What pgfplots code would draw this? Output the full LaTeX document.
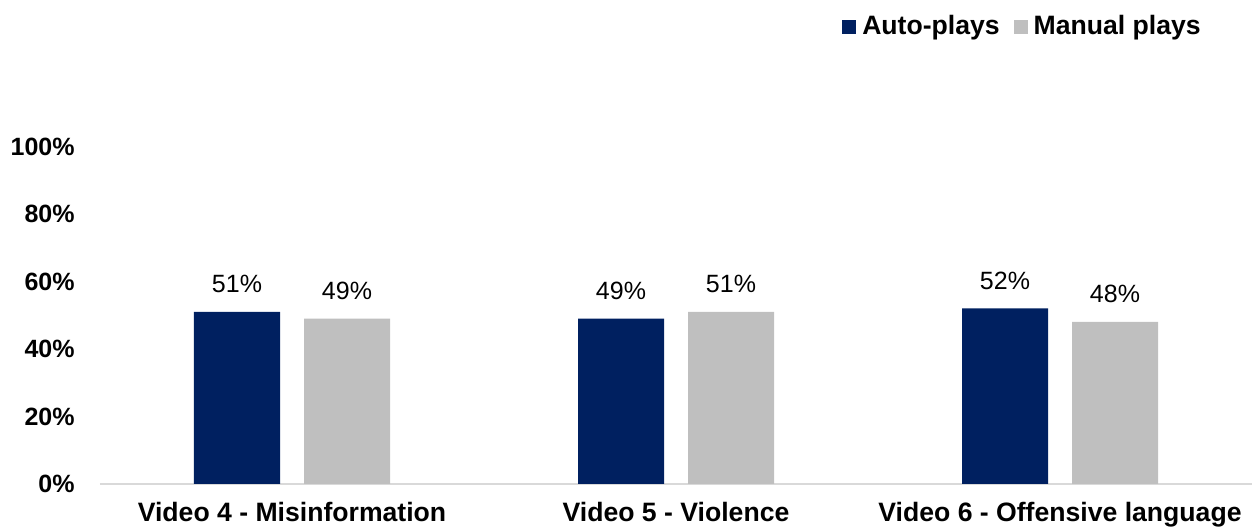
\documentclass[border=0pt]{standalone}
\usepackage{pgfplots}
\pgfplotsset{compat=1.18}
\usepackage{fontspec}
\setmainfont{Liberation Sans}
\definecolor{navy}{HTML}{002060}
\definecolor{lgray}{HTML}{BFBFBF}
\definecolor{axgray}{HTML}{D9D9D9}
\begin{document}
\fontsize{12.5}{15}\selectfont
\begin{tikzpicture}
\begin{axis}[
  scale only axis,
  width=576pt, height=168.75pt,
  xmin=-0.5, xmax=2.5,
  ymin=0, ymax=100,
  ybar=12pt, bar width=43pt,
  axis lines*=left,
  y axis line style={draw=none},
  x axis line style={draw=axgray, line width=1pt},
  major tick length=0pt,
  xtick={0,1,2},
  xticklabels={Video 4 - Misinformation, Video 5 - Violence, Video 6 - Offensive language},
  xticklabel style={font=\fontsize{13.3}{16}\selectfont\bfseries, anchor=north, inner sep=0pt, yshift=-9pt},
  ytick={0,20,40,60,80,100},
  yticklabels={0\%,20\%,40\%,60\%,80\%,100\%},
  yticklabel style={font=\fontsize{12.5}{15}\selectfont\bfseries, anchor=east, inner sep=0pt, xshift=-12.5pt},
  nodes near coords={\pgfmathprintnumber[assume math mode=true]{\pgfplotspointmeta}\%},
  every node near coord/.append style={font=\fontsize{12.5}{15}\selectfont, anchor=base, inner sep=0pt, yshift=9.5pt, text=black},
  legend columns=2,
  legend image code/.code={\fill[#1] (0pt,-3.5pt) rectangle (7pt,3.5pt);},
  legend style={draw=none, fill=none, at={(0.644,1.355)}, anchor=west, inner sep=0pt,
    font=\fontsize{13.3}{16}\selectfont\bfseries,
    nodes={inner ysep=0pt, inner xsep=3pt},
    /tikz/every even column/.append style={column sep=4pt}},
]
\addplot[fill=navy, draw=none] coordinates {(0,51) (1,49) (2,52)};
\addplot[fill=lgray, draw=none] coordinates {(0,49) (1,51) (2,48)};
\legend{Auto-plays, Manual plays}
\end{axis}
\pgfresetboundingbox
\useasboundingbox (-50pt,-22pt) rectangle (577pt,242pt);
\end{tikzpicture}
\end{document}
